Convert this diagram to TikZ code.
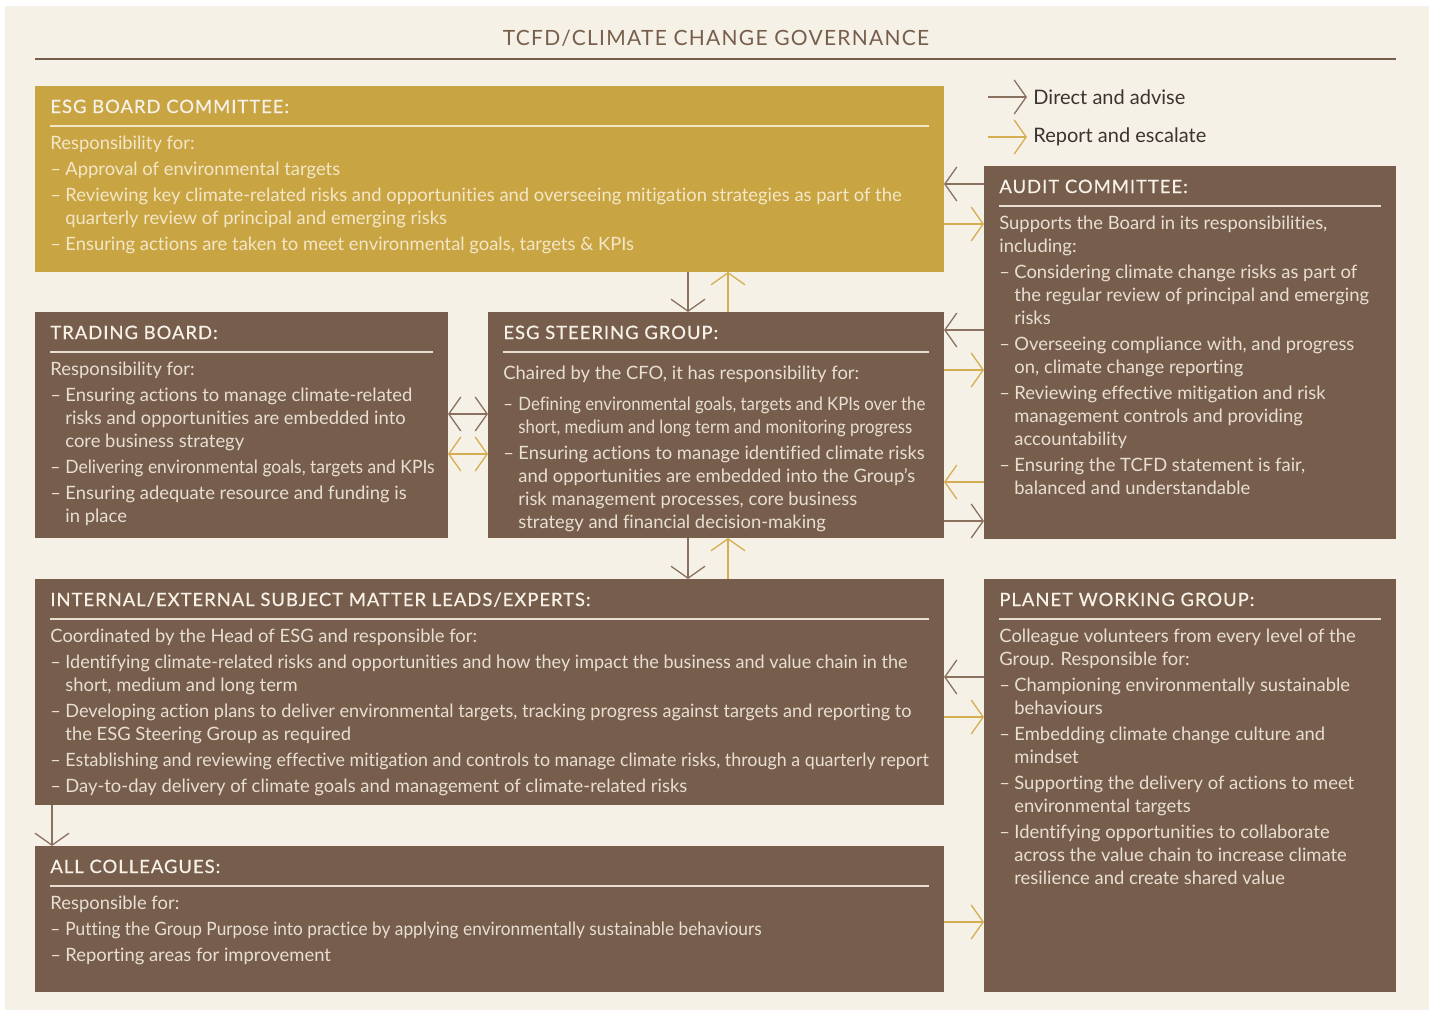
\documentclass[tikz,border=0pt]{standalone}
\usepackage{fontspec}
\setmainfont{Lato}[Ligatures=NoCommon]
\usetikzlibrary{arrows.meta,calc}

\definecolor{cream}{HTML}{F6F1E6}
\definecolor{boxbrown}{HTML}{775E4C}
\definecolor{boxgold}{HTML}{C9A442}
\definecolor{headtext}{HTML}{F7F1E8}
\definecolor{bodytext}{HTML}{E8DED2}
\definecolor{goldtext}{HTML}{F3E7C8}
\definecolor{arrbrown}{HTML}{8A7160}
\definecolor{arrgold}{HTML}{D4AE50}
\definecolor{keytext}{HTML}{3A3330}

% dash and hanging indent for the list items
\def\itm{\makebox[7.5pt][l]{–}}
\def\ind{\hspace*{7.5pt}}
\def\tight#1#2{{\addfontfeature{FakeStretch=#1}#2}}
\def\bodyfont{\fontsize{9.2pt}{11.5pt}\selectfont}
\def\headfont{\fontsize{9.2pt}{11pt}\selectfont\addfontfeature{LetterSpace=5.5,FakeBold=0.6}}

\tikzset{
  box/.style={anchor=north west, inner sep=0pt, outer sep=0pt},
  brownbox/.style={box, fill=boxbrown},
  goldbox/.style={box, fill=boxgold},
  heading/.style={anchor=base west, inner sep=0pt, font=\headfont, text=headtext},
  body/.style={anchor=north west, inner sep=0pt, align=left, font=\bodyfont, text=bodytext},
  boxrule/.style={draw=bodytext, line width=0.6pt},
  keylabel/.style={anchor=west, inner sep=3pt, font=\fontsize{10pt}{12pt}\selectfont, text=keytext},
  dirarr/.style={draw=arrbrown, line width=0.65pt, -{Straight Barb[length=6pt,width=17pt]}},
  reparr/.style={draw=arrgold, line width=0.65pt, -{Straight Barb[length=6pt,width=17pt]}},
  dirboth/.style={dirarr, {Straight Barb[length=6pt,width=17pt]}-{Straight Barb[length=6pt,width=17pt]}},
  repboth/.style={reparr, {Straight Barb[length=6pt,width=17pt]}-{Straight Barb[length=6pt,width=17pt]}},
}

\begin{document}
\begin{tikzpicture}[x=0.5pt, y=-0.5pt]
  %%%%% BACKGROUND %%%%%
  \useasboundingbox (0,0) rectangle (1429,1011);
  \fill[white] (0,0) rectangle (1429,1011);
  \fill[cream] (5,6) rectangle (1429,1010);

  \node[anchor=base, inner sep=0pt, font=\fontsize{10.5pt}{12pt}\selectfont\addfontfeature{LetterSpace=6}, text=boxbrown] (title) at (716,46) {TCFD/CLIMATE CHANGE GOVERNANCE};
  \draw[boxbrown, line width=0.6pt] (35,59) -- (1396,59);

  %%%%% KEY %%%%%
  \coordinate (keydirfrom) at (988,97);
  \coordinate (keyrepfrom) at (988,137);
  \node[keylabel] (keydir) at (1027,97) {Direct and advise};
  \node[keylabel] (keyrep) at (1027,137) {Report and escalate};
  \draw[dirarr] (keydirfrom) -- (keydir.west);
  \draw[reparr] (keyrepfrom) -- (keyrep.west);

  %%%%% BOXES %%%%%
  \node[goldbox, minimum width=454.5pt, minimum height=93pt] (board) at (35,86) {};
  \node[brownbox, minimum width=206pt, minimum height=186.5pt] (audit) at (984,166) {};
  \node[brownbox, minimum width=206.5pt, minimum height=113pt] (trading) at (35,312) {};
  \node[brownbox, minimum width=228pt, minimum height=113pt] (steer) at (488,312) {};
  \node[brownbox, minimum width=454.5pt, minimum height=113pt] (experts) at (35,579) {};
  \node[brownbox, minimum width=454.5pt, minimum height=73pt] (colleagues) at (35,846) {};
  \node[brownbox, minimum width=206pt, minimum height=206.5pt] (planet) at (984,579) {};

  % ESG board committee
  \node[heading] (boardhead) at ($(board.north west)+(15,27)$) {ESG BOARD COMMITTEE:};
  \draw[boxrule, draw=goldtext] ($(board.north west)+(15,40)$) -- ($(board.north east)+(-15,40)$);
  \node[body, text=goldtext] (boardtext) at ($(board.north west)+(15,50)$) {Responsibility for:\\[1.5pt]
    \itm Approval of environmental targets\\[1.5pt]
    \itm Reviewing key climate-related risks and opportunities and overseeing mitigation strategies as part of the\\
    \ind quarterly review of principal and emerging risks\\[1.5pt]
    \itm Ensuring actions are taken to meet environmental goals, targets \& KPIs};

  % audit committee
  \node[heading] (audithead) at ($(audit.north west)+(15,27)$) {AUDIT COMMITTEE:};
  \draw[boxrule] ($(audit.north west)+(15,40)$) -- ($(audit.north east)+(-15,40)$);
  \node[body] (audittext) at ($(audit.north west)+(15,50)$) {Supports the Board in its responsibilities,\\
    including:\\[1.5pt]
    \itm Considering climate change risks as part of\\
    \ind the regular review of principal and emerging\\
    \ind risks\\[1.5pt]
    \itm Overseeing compliance with, and progress\\
    \ind on, climate change reporting\\[1.5pt]
    \itm Reviewing effective mitigation and risk\\
    \ind management controls and providing\\
    \ind accountability\\[1.5pt]
    \itm Ensuring the TCFD statement is fair,\\
    \ind balanced and understandable};

  % trading board
  \node[heading] (tradinghead) at ($(trading.north west)+(15,27)$) {TRADING BOARD:};
  \draw[boxrule] ($(trading.north west)+(15,40)$) -- ($(trading.north east)+(-15,40)$);
  \node[body] (tradingtext) at ($(trading.north west)+(15,50)$) {Responsibility for:\\[1.5pt]
    \itm Ensuring actions to manage climate-related\\
    \ind risks and opportunities are embedded into\\
    \ind core business strategy\\[1.5pt]
    \tight{0.95}{\itm Delivering environmental goals, targets and KPIs}\\[1.5pt]
    \itm Ensuring adequate resource and funding is\\
    \ind in place};

  % ESG steering group
  \node[heading] (steerhead) at ($(steer.north west)+(15,27)$) {ESG STEERING GROUP:};
  \draw[boxrule] ($(steer.north west)+(15,40)$) -- ($(steer.north east)+(-15,40)$);
  \node[body] (steertext) at ($(steer.north west)+(15,54)$) {Chaired by the CFO, it has responsibility for:\\[4pt]
    \tight{0.91}{\itm Defining environmental goals, targets and KPIs over the}\\
    \tight{0.91}{\ind short, medium and long term and monitoring progress}\\[1.5pt]
    \itm Ensuring actions to manage identified climate risks\\
    \ind and opportunities are embedded into the Group’s\\
    \ind risk management processes, core business\\
    \ind strategy and financial decision-making};

  % subject matter leads
  \node[heading] (expertshead) at ($(experts.north west)+(15,27)$) {INTERNAL/EXTERNAL SUBJECT MATTER LEADS/EXPERTS:};
  \draw[boxrule] ($(experts.north west)+(15,40)$) -- ($(experts.north east)+(-15,40)$);
  \node[body] (expertstext) at ($(experts.north west)+(15,50)$) {Coordinated by the Head of ESG and responsible for:\\[1.5pt]
    \tight{0.98}{\itm Identifying climate-related risks and opportunities and how they impact the business and value chain in the}\\
    \ind short, medium and long term\\[1.5pt]
    \tight{0.985}{\itm Developing action plans to deliver environmental targets, tracking progress against targets and reporting to}\\
    \ind the ESG Steering Group as required\\[1.5pt]
    \tight{0.97}{\itm Establishing and reviewing effective mitigation and controls to manage climate risks, through a quarterly report}\\[1.5pt]
    \itm Day-to-day delivery of climate goals and management of climate-related risks};

  % all colleagues
  \node[heading] (colleagueshead) at ($(colleagues.north west)+(15,27)$) {ALL COLLEAGUES:};
  \draw[boxrule] ($(colleagues.north west)+(15,40)$) -- ($(colleagues.north east)+(-15,40)$);
  \node[body] (colleaguestext) at ($(colleagues.north west)+(15,50)$) {Responsible for:\\[1.5pt]
    \tight{0.94}{\itm Putting the Group Purpose into practice by applying environmentally sustainable behaviours}\\[1.5pt]
    \itm Reporting areas for improvement};

  % planet working group
  \node[heading] (planethead) at ($(planet.north west)+(15,27)$) {PLANET WORKING GROUP:};
  \draw[boxrule] ($(planet.north west)+(15,40)$) -- ($(planet.north east)+(-15,40)$);
  \node[body] (planettext) at ($(planet.north west)+(15,50)$) {Colleague volunteers from every level of the\\
    Group. Responsible for:\\[1.5pt]
    \itm Championing environmentally sustainable\\
    \ind behaviours\\[1.5pt]
    \itm Embedding climate change culture and\\
    \ind mindset\\[1.5pt]
    \itm Supporting the delivery of actions to meet\\
    \ind environmental targets\\[1.5pt]
    \itm Identifying opportunities to collaborate\\
    \ind across the value chain to increase climate\\
    \ind resilience and create shared value};

  %%%%% ARROWS %%%%%
  \draw[dirarr] (board.south -| 688,0) -- (steer.north -| 688,0);
  \draw[reparr] (steer.north -| 728,0) -- (board.south -| 728,0);
  \draw[dirarr] (steer.south -| 688,0) -- (experts.north -| 688,0);
  \draw[reparr] (experts.north -| 728,0) -- (steer.south -| 728,0);

  \draw[dirboth] (trading.east |- 0,414) -- (steer.west |- 0,414);
  \draw[repboth] (trading.east |- 0,454) -- (steer.west |- 0,454);

  \draw[dirarr] (audit.west |- 0,184) -- (board.east |- 0,184);
  \draw[reparr] (board.east |- 0,224) -- (audit.west |- 0,224);
  \draw[dirarr] (audit.west |- 0,330) -- (steer.east |- 0,330);
  \draw[reparr] (steer.east |- 0,370) -- (audit.west |- 0,370);
  \draw[reparr] (audit.west |- 0,482) -- (steer.east |- 0,482);
  \draw[dirarr] (steer.east |- 0,521) -- (audit.west |- 0,521);

  \draw[dirarr] (planet.west |- 0,677) -- (experts.east |- 0,677);
  \draw[reparr] (experts.east |- 0,717) -- (planet.west |- 0,717);
  \draw[reparr] (colleagues.east |- 0,922) -- (planet.west |- 0,922);

  \draw[dirarr] (experts.south -| 52,0) -- (colleagues.north -| 52,0);
\end{tikzpicture}
\end{document}
